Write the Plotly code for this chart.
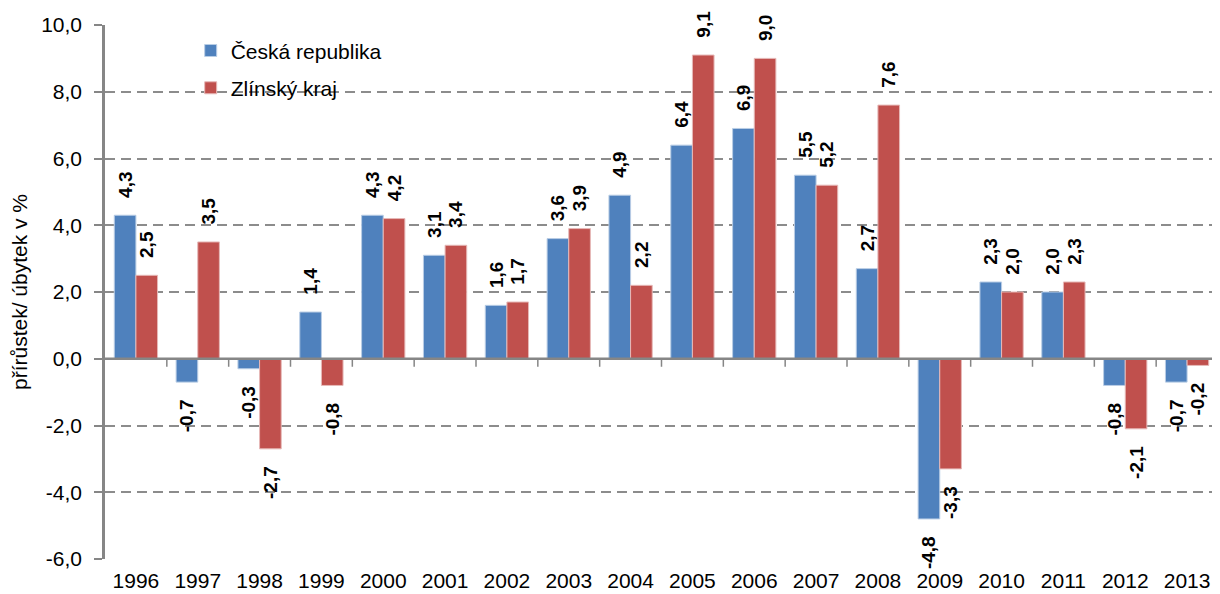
import plotly.graph_objects as go

years = ["1996","1997","1998","1999","2000","2001","2002","2003","2004","2005",
         "2006","2007","2008","2009","2010","2011","2012","2013"]
cr = [4.3, -0.7, -0.3, 1.4, 4.3, 3.1, 1.6, 3.6, 4.9, 6.4, 6.9, 5.5, 2.7, -4.8, 2.3, 2.0, -0.8, -0.7]
zlin = [2.5, 3.5, -2.7, -0.8, 4.2, 3.4, 1.7, 3.9, 2.2, 9.1, 9.0, 5.2, 7.6, -3.3, 2.0, 2.3, -2.1, -0.2]
yticks = [-6, -4, -2, 0, 2, 4, 6, 8, 10]

NB = "\u00a0\u00a0\u2009"

def lab(v):
    return f"{v:.1f}".replace(".", ",")

def barlab(v):
    s = lab(v)
    return NB + s if v >= 0 else s + NB

lblfont = dict(family="Liberation Sans, Arial", size=19, color="black", weight="bold")

fig = go.Figure()
fig.add_bar(x=years, y=cr, name="Česká republika", legendgroup="a",
            marker=dict(color="#4F81BD", line=dict(color="#B9CDE5", width=1)),
            text=[barlab(v) for v in cr], textposition="outside", textangle=-90,
            constraintext="none", textfont=lblfont, cliponaxis=False)
fig.add_bar(x=years, y=zlin, name="Zlínský kraj", legendgroup="b",
            marker=dict(color="#C0504D", line=dict(color="#E6B9B8", width=1)),
            text=[barlab(v) for v in zlin], textposition="outside", textangle=-90,
            constraintext="none", textfont=lblfont, cliponaxis=False)

# category tick marks on the zero line
shapes = []
for i in range(1, len(years)):
    shapes.append(dict(type="line", xref="x", yref="y", x0=i - 0.5, x1=i - 0.5, y0=0, y1=-0.24,
                       line=dict(color="#868686", width=1.5)))
shapes.append(dict(type="line", xref="paper", yref="y", x0=0, x1=1, y0=0, y1=0,
                   line=dict(color="#868686", width=2.5)))

# page body has an 8px margin, so the figure is drawn 8px smaller on each of those sides
fig.update_layout(
    width=1212, height=586,
    margin=dict(l=97, r=2, t=17, b=35),
    plot_bgcolor="white", paper_bgcolor="white",
    barmode="group", bargap=0.30, bargroupgap=0,
    font=dict(family="Liberation Sans, Arial", size=21, color="black"),
    showlegend=True,
    legend=dict(x=0.077, y=0.99, xanchor="left", yanchor="top", font=dict(size=21),
                bgcolor="rgba(255,255,255,0)", tracegroupgap=7, itemwidth=30),
    shapes=shapes,
)
fig.update_xaxes(type="category", showgrid=False, showline=False, ticks="", tickfont=dict(size=21),
                 range=[-0.5, len(years) - 0.5], ticklabelstandoff=7)
fig.update_yaxes(range=[-6, 10], tickvals=yticks, ticktext=[lab(v) for v in yticks],
                 showgrid=True, gridcolor="#8C8C8C", griddash="10px,6px", gridwidth=2,
                 zeroline=False, showline=True, linecolor="#868686", linewidth=2.5,
                 ticks="outside", ticklen=8, tickcolor="#868686", tickwidth=2,
                 tickfont=dict(size=21), ticklabelstandoff=8,
                 title=dict(text="přírůstek/ úbytek v %", font=dict(size=21), standoff=8))
fig.write_html("out.html")
